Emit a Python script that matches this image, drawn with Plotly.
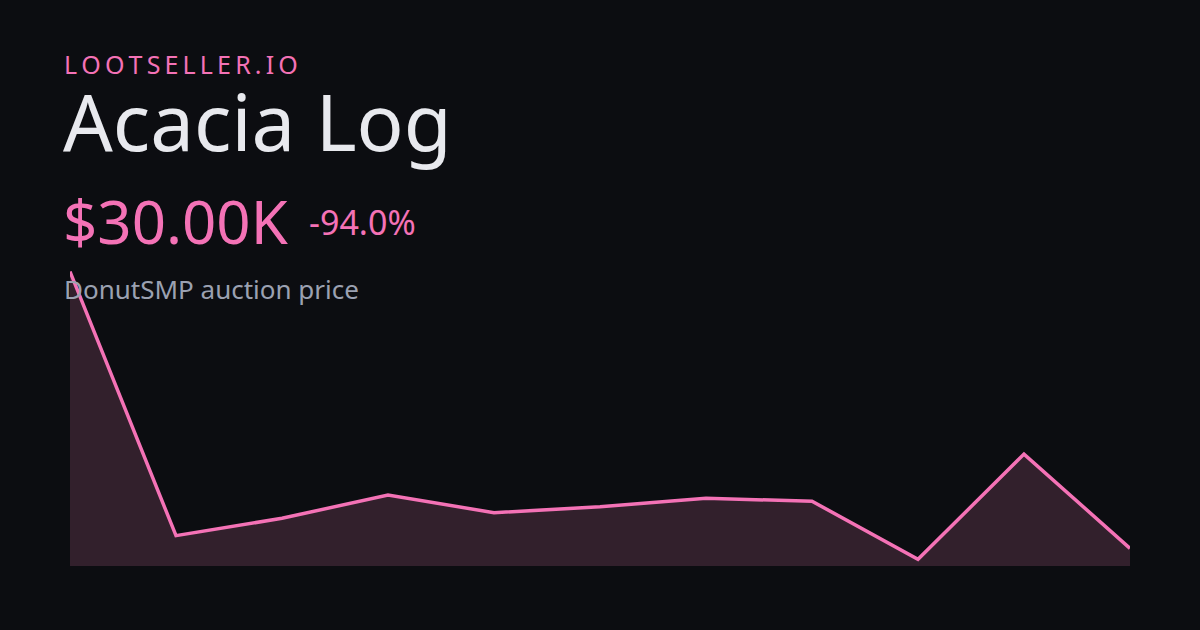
import plotly.graph_objects as go

# Data (values in thousands of $)
periods = list(range(11))
prices_k = [500, 51.5, 81, 120.6, 90.5, 100.7, 115, 110, 11.4, 190, 30]

brand = "LOOTSELLER.IO"
item_name = "Acacia Log"
price_label = "$30.00K"
change_label = "-94.0%"
caption = "DonutSMP auction price"

BG = "#0c0d11"
PINK = "#f472b6"
FILL = "#32202c"

W, H = 1200, 630
L, R, T, B = 70, 70, 266, 64
PH = H - T - B


def px(x):
    return (x - L) / (W - L - R)


def py(y):
    return (H - B - y) / PH


fig = go.Figure()
fig.add_trace(go.Scatter(
    x=periods, y=prices_k, mode="lines",
    line=dict(color=PINK, width=3.5),
    fill="tozeroy", fillcolor=FILL,
    hoverinfo="skip",
))

font = "Noto Sans"
spaced_brand = "\u2009".join(brand)
ann = [
    dict(text=spaced_brand, x=px(62), y=py(64), size=25, color=PINK),
    dict(text=item_name, x=px(61), y=py(121), size=78, color="#e8e9ee"),
    dict(text=price_label, x=px(61), y=py(221), size=60, color=PINK),
    dict(text=change_label, x=px(307), y=py(222), size=34, color=PINK),
    dict(text=caption, x=px(62), y=py(289), size=26, color="#9ba1b1"),
]
for a in ann:
    fig.add_annotation(
        text=a["text"], x=a["x"], y=a["y"], xref="paper", yref="paper",
        xanchor="left", yanchor="middle", showarrow=False,
        font=dict(family=font, size=a["size"], color=a["color"]),
    )

fig.update_layout(
    width=W, height=H,
    paper_bgcolor=BG, plot_bgcolor=BG,
    margin=dict(l=L, r=R, t=T, b=B),
    showlegend=False,
    xaxis=dict(visible=False, range=[0, 10], fixedrange=True),
    yaxis=dict(visible=False, range=[0, PH / 0.5889], fixedrange=True),
)

fig.write_html(
    "out.html",
    config={"displayModeBar": False},
    post_script="document.body.style.margin='0';document.body.style.background='%s';" % BG,
)
